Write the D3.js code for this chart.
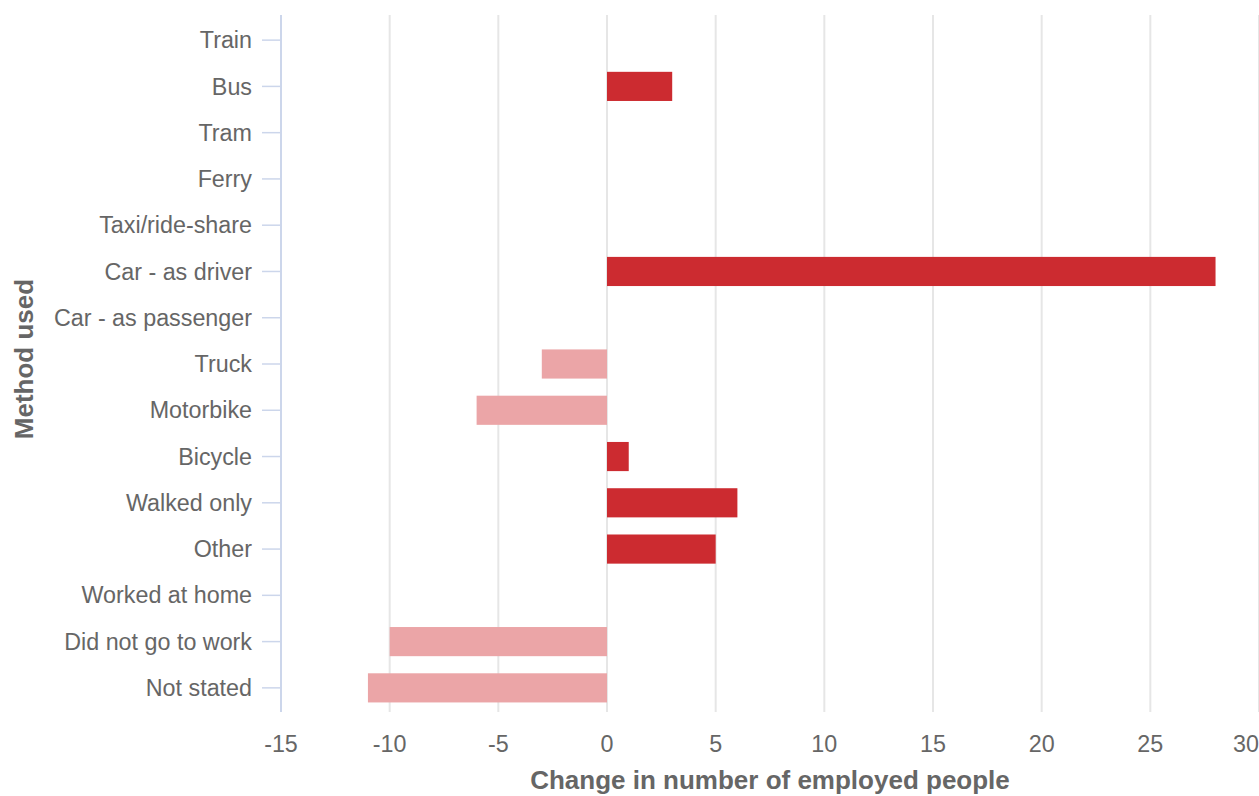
<!DOCTYPE html>
<html><head><meta charset="utf-8">
<script src="https://cdn.jsdelivr.net/npm/d3@7"></script>
<style>body{margin:0;background:#fff;font-family:"Liberation Sans",Arial,sans-serif;}</style>
</head><body><svg id="c" width="1259" height="796"></svg>
<script>
const categories = ["Train","Bus","Tram","Ferry","Taxi/ride-share","Car - as driver","Car - as passenger","Truck","Motorbike","Bicycle","Walked only","Other","Worked at home","Did not go to work","Not stated"];
const values = [0,3,0,0,0,28,0,-3,-6,1,6,5,0,-10,-11];
const xTicks = [-15,-10,-5,0,5,10,15,20,25,30];
const xTitle = "Change in number of employed people";
const yTitle = "Method used";

(function(){
const svg = d3.select("#c");
const pL = 281, pR = 1259, pT = 17, pB = 711;
const fs = 23.3;
const x = d3.scaleLinear().domain([-15,30]).range([pL,pR]);
const y = d3.scaleBand().domain(categories).range([pT,pB]).paddingInner(0.37).paddingOuter(0.185);

// gridlines
svg.append("g").selectAll("line").data(xTicks.filter(d=>d!==-15)).join("line")
  .attr("x1",d=>x(d)).attr("x2",d=>x(d)).attr("y1",pT-2).attr("y2",pB+1)
  .attr("stroke","#e6e6e6").attr("stroke-width",2);

// bars
svg.append("g").selectAll("rect").data(categories.map((c,i)=>({c,v:values[i]})).filter(d=>d.v!==0)).join("rect")
  .attr("x",d=>x(Math.min(0,d.v))).attr("width",d=>Math.abs(x(d.v)-x(0)))
  .attr("y",d=>y(d.c)).attr("height",y.bandwidth())
  .attr("fill",d=>d.v>0?"#cc2b30":"#eba5a7");

// y axis line and ticks
svg.append("line").attr("x1",pL).attr("x2",pL).attr("y1",pT-2).attr("y2",pB+1)
  .attr("stroke","#ccd6eb").attr("stroke-width",2);
const yc = d=>y(d)+y.bandwidth()/2;
svg.append("g").selectAll("line").data(categories).join("line")
  .attr("x1",262).attr("x2",pL).attr("y1",yc).attr("y2",yc)
  .attr("stroke","#ccd6eb").attr("stroke-width",1.5);
svg.append("g").selectAll("text").data(categories).join("text")
  .attr("x",252).attr("y",yc).attr("dy","0.35em").attr("text-anchor","end")
  .attr("font-size",fs).attr("fill","#666").text(d=>d);

// x tick labels
svg.append("g").selectAll("text").data(xTicks).join("text")
  .attr("x",d=>d===30?pR:x(d)).attr("y",752).attr("text-anchor",d=>d===30?"end":"middle")
  .attr("font-size",fs).attr("fill","#666").text(d=>d);

// titles
svg.append("text").attr("x",(pL+pR)/2).attr("y",789).attr("text-anchor","middle")
  .attr("font-size",26).attr("font-weight","bold").attr("fill","#666").text(xTitle);
svg.append("text").attr("transform",`translate(33,359) rotate(-90)`).attr("text-anchor","middle")
  .attr("font-size",26).attr("font-weight","bold").attr("fill","#666").text(yTitle);
})();
</script></body></html>
